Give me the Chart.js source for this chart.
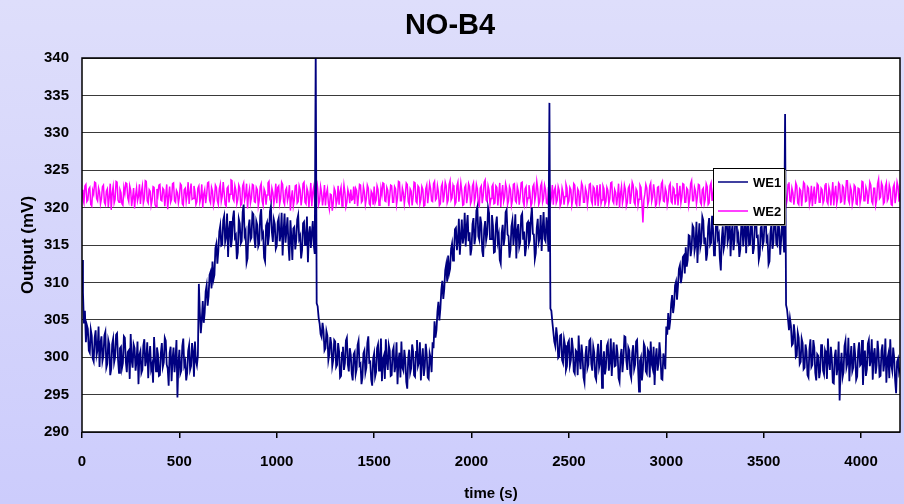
<!DOCTYPE html>
<html>
<head>
<meta charset="utf-8">
<title>NO-B4</title>
<script src="https://cdn.jsdelivr.net/npm/chart.js@4.4.1/dist/chart.umd.min.js"></script>
<style>
  html, body { margin: 0; padding: 0; background: #d4d4fb; }
  canvas { display: block; }
</style>
</head>
<body>
<canvas id="myChart" width="904" height="504"></canvas>
<script>
// sampling interval of the logged signals (s)
var step = 5;

// WE1 output (mV), one value every 5 s from 0 to 4200 s (20 values = 100 s per row)
var we1 = [
  313.0, 308.6, 304.5, 306.2, 302.0, 304.3, 303.8, 300.9, 300.6, 303.7, 302.9, 299.8, 299.4, 302.6, 303.6, 300.3, 301.0, 304.1, 298.7, 301.9,
  302.8, 299.5, 300.2, 302.9, 303.4, 298.6, 299.1, 302.3, 301.7, 297.6, 298.4, 301.8, 302.5, 299.3, 300.0, 303.0, 303.2, 299.7, 297.9, 301.2,
  301.4, 298.5, 299.2, 302.8, 302.6, 299.4, 298.0, 300.7, 300.9, 297.1, 303.1, 299.6, 298.6, 301.7, 301.2, 298.2, 299.5, 302.1, 296.4, 300.3,
  300.8, 297.9, 298.3, 301.6, 302.4, 298.8, 299.6, 302.0, 297.2, 300.1, 301.5, 298.4, 299.0, 296.6, 302.7, 299.9, 298.1, 301.3, 300.4, 297.5,
  297.6, 300.6, 301.9, 298.7, 299.3, 302.6, 302.2, 299.0, 298.5, 296.2, 300.6, 301.4, 296.8, 299.8, 301.3, 298.0, 299.7, 302.3, 294.6, 299.2,
  301.0, 297.8, 298.2, 301.5, 302.5, 298.9, 299.4, 296.9, 297.9, 300.8, 301.6, 298.3, 298.8, 301.9, 300.7, 297.4, 302.1, 299.5, 298.9, 300.2,
  309.8, 306.1, 303.2, 305.0, 307.5, 304.6, 306.0, 308.8, 309.6, 306.9, 308.2, 311.0, 311.4, 309.2, 312.8, 310.4, 311.0, 314.6, 315.2, 312.5,
  314.2, 316.8, 317.6, 314.9, 315.0, 318.3, 318.9, 315.4, 316.1, 319.2, 313.4, 317.0, 318.2, 314.7, 315.8, 318.6, 319.6, 316.0, 316.3, 313.1,
  314.0, 318.5, 317.9, 315.2, 315.5, 319.4, 320.4, 316.3, 316.8, 312.6, 313.2, 317.4, 318.4, 315.7, 316.0, 319.3, 319.1, 315.9, 314.6, 318.2,
  317.7, 314.8, 315.2, 318.9, 319.8, 316.1, 316.5, 313.3, 312.8, 317.6, 318.0, 315.0, 316.2, 319.5, 320.2, 316.7, 315.4, 318.4, 317.8, 314.5,
  314.9, 318.1, 318.6, 315.5, 316.4, 319.3, 313.6, 316.8, 319.2, 315.3, 316.9, 318.7, 315.1, 312.9, 318.3, 316.1, 313.0, 317.2, 317.4, 314.4,
  315.6, 318.4, 319.0, 315.8, 316.2, 313.2, 314.3, 317.9, 318.1, 315.0, 315.9, 318.8, 312.7, 316.4, 317.5, 314.6, 316.6, 318.2, 315.0, 313.8,
  341.0, 307.2, 306.8, 305.3, 304.5, 303.1, 302.7, 304.6, 303.6, 300.9, 301.2, 303.5, 302.9, 299.6, 300.4, 302.7, 301.8, 298.8, 299.6, 302.3,
  302.1, 298.7, 299.0, 301.9, 300.8, 297.3, 297.5, 300.6, 301.4, 298.3, 299.2, 302.2, 302.6, 299.0, 298.1, 301.2, 300.3, 297.8, 296.9, 300.4,
  300.7, 297.7, 298.4, 301.6, 302.2, 298.9, 299.1, 296.4, 297.3, 300.5, 300.9, 297.9, 298.6, 301.9, 302.8, 299.3, 299.4, 297.0, 296.2, 299.8,
  300.5, 297.4, 298.0, 301.2, 301.7, 298.2, 299.8, 302.5, 296.8, 299.7, 300.2, 297.1, 302.4, 299.4, 298.3, 301.6, 300.9, 297.5, 297.6, 300.8,
  301.3, 298.0, 298.9, 302.0, 296.4, 299.5, 300.6, 297.3, 302.1, 298.6, 298.2, 301.0, 299.7, 296.7, 295.8, 299.9, 301.0, 297.9, 298.5, 301.7,
  300.8, 297.6, 297.4, 300.7, 302.3, 298.8, 299.3, 302.0, 296.9, 299.6, 301.2, 297.5, 298.7, 301.8, 300.4, 297.3, 297.1, 300.5, 299.9, 298.0,
  302.0, 301.2, 304.8, 302.6, 303.6, 306.1, 307.4, 304.9, 306.5, 309.0, 310.2, 307.8, 309.1, 311.6, 312.4, 310.1, 313.6, 311.2, 311.8, 314.5,
  315.2, 312.9, 314.0, 317.1, 317.3, 314.3, 315.6, 318.5, 313.7, 316.0, 318.4, 315.2, 316.1, 319.3, 314.8, 317.4, 319.0, 315.5, 316.7, 313.6,
  314.5, 317.8, 318.6, 315.1, 316.0, 319.6, 320.1, 316.2, 315.7, 318.8, 317.9, 314.2, 313.4, 317.1, 318.2, 315.6, 316.4, 320.0, 319.3, 315.8,
  315.8, 319.0, 317.6, 314.0, 314.1, 317.7, 318.8, 315.5, 316.3, 313.0, 312.5, 316.6, 317.7, 314.9, 315.9, 319.4, 319.7, 316.4, 316.2, 313.3,
  314.4, 317.5, 318.3, 315.0, 316.6, 319.1, 313.2, 316.9, 317.8, 314.7, 315.3, 318.9, 319.2, 315.7, 316.8, 313.5, 314.6, 317.9, 318.1, 315.2,
  315.7, 318.6, 320.0, 316.5, 316.4, 313.1, 313.9, 317.3, 318.5, 315.4, 316.0, 319.0, 314.2, 317.1, 319.4, 315.8, 315.5, 318.7, 317.2, 314.1,
  334.0, 306.5, 306.2, 304.7, 303.4, 302.1, 301.5, 304.0, 302.8, 299.9, 300.1, 302.9, 303.0, 299.6, 299.2, 302.4, 301.6, 298.3, 298.8, 301.9,
  302.2, 298.9, 299.6, 302.6, 301.3, 298.1, 297.8, 300.9, 300.7, 297.6, 302.9, 299.9, 298.4, 301.7, 300.2, 297.3, 296.6, 300.3, 301.5, 298.5,
  299.0, 302.2, 302.4, 299.1, 298.2, 301.4, 300.6, 297.4, 297.0, 300.2, 301.8, 298.6, 299.3, 302.3, 295.9, 299.2, 300.8, 297.7, 298.6, 301.5,
  301.9, 298.2, 299.4, 302.5, 297.5, 300.4, 302.0, 298.8, 298.9, 301.7, 300.5, 297.2, 296.7, 300.1, 301.1, 298.0, 299.8, 302.8, 302.7, 299.5,
  298.3, 301.3, 300.9, 297.8, 297.2, 300.6, 301.6, 298.4, 299.0, 302.1, 302.3, 298.7, 295.4, 299.5, 300.0, 296.9, 298.4, 301.8, 301.4, 298.1,
  297.8, 301.0, 300.7, 297.3, 302.1, 299.1, 298.5, 301.4, 296.3, 299.8, 301.2, 298.2, 299.1, 302.0, 300.3, 297.1, 297.0, 300.5, 299.6, 298.4,
  304.1, 303.0, 305.9, 303.7, 304.8, 307.1, 308.3, 305.9, 307.0, 309.6, 310.1, 307.7, 309.5, 311.8, 312.3, 309.9, 310.8, 313.4, 313.6, 311.2,
  314.7, 312.1, 313.0, 316.3, 316.2, 313.5, 314.5, 317.6, 317.3, 314.2, 315.0, 318.1, 312.6, 315.8, 317.9, 314.7, 315.4, 318.8, 318.3, 315.1,
  316.0, 312.9, 313.8, 317.4, 318.6, 315.0, 315.3, 318.9, 317.2, 313.6, 314.0, 317.7, 319.3, 315.9, 316.4, 313.2, 311.6, 315.8, 317.5, 314.5,
  315.2, 318.3, 318.7, 315.4, 316.1, 319.2, 313.5, 316.6, 317.8, 314.3, 315.6, 318.9, 319.1, 315.7, 316.3, 313.4, 314.4, 317.6, 318.0, 314.8,
  316.6, 319.7, 313.9, 316.9, 318.4, 315.0, 315.1, 318.3, 317.4, 313.8, 314.6, 318.0, 319.5, 316.1, 316.2, 313.0, 313.7, 317.3, 317.6, 314.9,
  315.5, 318.5, 318.9, 315.6, 316.0, 312.4, 312.8, 316.7, 317.9, 314.5, 315.3, 318.8, 318.2, 315.1, 314.9, 318.4, 317.1, 313.7, 315.8, 318.3,
  316.5, 314.0, 332.5, 307.0, 306.4, 305.1, 303.6, 305.2, 304.2, 301.6, 301.8, 304.4, 303.1, 300.0, 300.2, 303.3, 302.6, 299.1, 299.4, 302.5,
  301.9, 298.4, 298.6, 301.7, 300.8, 297.6, 297.3, 301.1, 302.4, 298.7, 299.0, 302.3, 301.3, 297.9, 296.9, 300.4, 300.2, 297.2, 298.1, 301.6,
  301.6, 298.2, 297.7, 300.9, 300.4, 297.1, 302.5, 299.4, 298.3, 301.4, 299.9, 296.6, 296.5, 300.2, 301.0, 297.6, 298.8, 302.1, 294.2, 298.7,
  300.6, 297.3, 298.0, 301.5, 302.2, 298.6, 299.2, 302.6, 296.8, 299.7, 301.5, 298.1, 298.6, 301.9, 300.3, 297.0, 297.4, 300.8, 302.0, 298.9,
  299.1, 302.3, 296.3, 299.6, 300.9, 297.5, 298.4, 301.8, 302.3, 298.8, 299.6, 302.4, 297.0, 300.3, 301.2, 297.8, 298.9, 302.2, 300.5, 297.4,
  297.5, 300.9, 301.7, 298.1, 299.3, 302.5, 296.6, 299.7, 300.4, 297.2, 302.4, 299.0, 298.2, 301.3, 300.0, 296.9, 295.2, 299.4, 299.8, 298.0,
  298.6
];

// WE2 output (mV), same time base
var we2 = [
  322.4, 321.1, 320.6, 322.9, 323.1, 320.8, 321.0, 322.5, 322.7, 320.4, 320.2, 322.3, 321.8, 323.4, 323.3, 321.2, 320.9, 322.6, 322.1, 320.5,
  321.2, 322.8, 323.0, 320.7, 320.4, 322.2, 322.5, 320.1, 321.4, 323.2, 319.7, 321.9, 322.8, 320.6, 321.1, 323.5, 323.4, 321.0, 320.7, 322.4,
  322.0, 320.5, 320.3, 322.7, 321.9, 323.3, 323.2, 321.3, 320.8, 322.9, 322.3, 320.2, 321.3, 322.6, 319.9, 321.6, 322.6, 320.9, 321.5, 323.1,
  320.5, 322.1, 322.9, 320.6, 321.2, 323.6, 323.5, 320.9, 320.6, 322.4, 322.2, 320.3, 321.0, 322.8, 322.7, 320.4, 320.1, 322.5, 321.7, 323.0,
  323.1, 321.0, 320.9, 322.6, 322.4, 320.2, 321.6, 323.1, 319.8, 321.5, 322.8, 320.7, 321.1, 323.2, 323.3, 320.9, 320.7, 322.3, 322.0, 320.6,
  321.4, 323.2, 323.0, 320.5, 320.3, 322.4, 322.6, 320.8, 321.8, 323.4, 320.5, 322.0, 323.2, 321.1, 321.2, 322.9, 322.1, 320.4, 320.8, 322.6,
  322.9, 320.7, 321.3, 323.1, 320.0, 321.8, 322.4, 320.6, 321.7, 323.3, 323.4, 321.0, 320.6, 322.7, 322.2, 320.3, 321.0, 323.0, 322.7, 320.9,
  320.4, 322.5, 323.1, 320.8, 321.5, 323.4, 322.0, 320.4, 320.2, 322.6, 322.8, 320.7, 321.8, 323.7, 323.6, 321.2, 320.9, 322.9, 322.3, 320.5,
  321.1, 323.0, 322.6, 320.3, 320.5, 322.9, 323.3, 321.0, 321.6, 323.2, 319.9, 321.7, 322.5, 320.6, 321.3, 323.1, 323.0, 320.8, 320.7, 322.7,
  322.4, 320.2, 321.0, 322.8, 323.2, 320.9, 320.3, 322.5, 322.1, 320.4, 321.7, 323.3, 323.5, 321.1, 320.8, 322.6, 322.0, 320.5, 321.4, 323.2,
  320.6, 322.7, 322.9, 320.5, 321.2, 323.4, 323.1, 320.8, 320.4, 322.3, 322.6, 320.9, 321.5, 323.0, 319.6, 321.3, 322.3, 320.2, 321.0, 322.9,
  323.0, 320.6, 320.8, 322.9, 322.4, 320.3, 321.3, 323.2, 323.4, 320.7, 320.5, 322.6, 322.1, 320.1, 321.6, 323.3, 320.2, 322.1, 322.8, 320.6,
  321.1, 323.6, 322.6, 320.4, 320.9, 322.8, 322.0, 320.3, 321.4, 323.0, 320.3, 321.9, 322.5, 320.6, 319.8, 321.8, 321.7, 319.6, 320.6, 322.6,
  322.2, 320.4, 321.0, 322.9, 320.4, 322.1, 322.7, 320.2, 321.3, 323.0, 322.0, 320.1, 320.7, 322.4, 321.8, 320.6, 322.4, 321.0, 321.1, 322.8,
  320.5, 322.6, 322.3, 320.2, 321.6, 323.1, 323.0, 320.7, 320.9, 322.8, 322.1, 320.4, 321.2, 323.0, 322.6, 320.5, 320.3, 322.2, 321.9, 320.4,
  322.8, 320.6, 321.0, 322.9, 322.4, 320.3, 320.6, 322.6, 321.7, 323.3, 323.2, 320.9, 320.8, 322.7, 322.3, 320.2, 321.5, 323.0, 322.9, 320.7,
  320.7, 322.8, 322.5, 320.4, 321.3, 323.5, 323.4, 320.9, 320.9, 322.6, 322.0, 320.5, 321.6, 323.3, 323.1, 320.8, 320.4, 322.5, 322.2, 320.3,
  321.4, 323.4, 323.3, 320.8, 320.6, 322.9, 322.7, 320.5, 321.1, 322.8, 322.4, 320.2, 320.3, 322.5, 323.0, 320.6, 321.8, 323.2, 322.5, 320.9,
  320.8, 323.2, 323.5, 321.0, 321.2, 322.9, 322.1, 320.3, 320.5, 322.8, 323.2, 320.7, 321.7, 323.4, 322.9, 320.6, 321.0, 323.1, 323.6, 321.0,
  321.3, 323.0, 322.6, 320.4, 320.7, 322.9, 323.4, 320.8, 321.9, 323.3, 322.2, 320.3, 320.4, 322.7, 323.0, 320.6, 321.5, 323.2, 322.8, 320.5,
  320.9, 322.9, 323.3, 320.7, 321.4, 323.1, 322.5, 320.4, 320.2, 322.6, 322.9, 320.6, 321.6, 323.4, 323.7, 321.0, 320.8, 322.9, 322.3, 320.4,
  321.2, 322.8, 323.1, 320.5, 320.6, 322.9, 322.7, 320.3, 321.8, 323.3, 320.1, 321.9, 323.0, 320.8, 321.4, 323.2, 322.6, 320.4, 320.9, 322.8,
  322.4, 320.3, 321.0, 323.1, 323.2, 320.9, 320.7, 322.8, 322.2, 320.4, 321.5, 323.3, 323.4, 320.8, 320.3, 322.5, 322.8, 320.6, 321.3, 323.0,
  322.0, 320.2, 320.6, 322.8, 323.1, 320.9, 321.7, 323.5, 322.5, 320.4, 320.8, 322.9, 323.3, 320.7, 321.2, 323.0, 322.4, 320.6, 320.5, 322.7,
  322.9, 320.5, 321.3, 323.0, 320.4, 322.3, 322.7, 320.6, 321.0, 322.8, 322.3, 320.2, 320.6, 322.6, 322.0, 320.4, 321.5, 323.1, 322.6, 320.5,
  320.9, 322.7, 322.4, 320.3, 321.1, 323.2, 323.0, 320.6, 320.3, 322.5, 322.2, 320.2, 321.6, 323.3, 322.9, 320.7, 320.7, 322.6, 322.1, 320.4,
  321.4, 323.1, 323.2, 320.9, 320.5, 322.8, 322.6, 320.3, 321.8, 323.0, 320.2, 321.7, 323.1, 320.5, 321.0, 322.9, 322.5, 320.4, 320.8, 322.7,
  322.3, 320.5, 321.2, 323.3, 323.4, 320.9, 320.6, 322.4, 322.0, 320.3, 321.5, 323.2, 320.0, 321.9, 322.8, 320.6, 321.3, 323.0, 322.4, 320.2,
  320.7, 322.6, 322.9, 320.5, 321.6, 323.4, 323.0, 320.7, 320.4, 322.5, 322.2, 320.3, 321.1, 323.0, 322.7, 320.6, 318.0, 321.0, 321.8, 323.1,
  322.6, 320.4, 320.9, 322.9, 323.3, 320.8, 321.4, 323.1, 322.0, 320.2, 320.5, 322.7, 322.8, 320.6, 321.2, 323.2, 323.5, 320.9, 320.8, 322.6,
  322.1, 320.3, 321.0, 322.9, 323.2, 320.8, 320.6, 322.7, 322.5, 320.4, 321.7, 323.3, 320.3, 321.8, 322.9, 320.6, 321.4, 323.2, 323.1, 320.7,
  320.7, 322.6, 322.4, 320.3, 321.2, 323.2, 323.6, 320.9, 320.9, 322.7, 322.2, 320.5, 321.5, 323.1, 323.0, 320.7, 320.4, 322.4, 322.6, 320.5,
  321.1, 323.2, 322.8, 320.4, 320.6, 322.9, 323.3, 320.9, 321.8, 323.1, 322.0, 320.1, 320.2, 322.6, 322.7, 320.5, 321.3, 323.2, 323.4, 320.8,
  320.8, 322.7, 322.3, 320.2, 321.6, 323.4, 323.1, 320.6, 320.5, 322.8, 322.9, 320.7, 321.0, 322.9, 322.4, 320.3, 321.7, 323.3, 323.5, 321.0,
  320.9, 322.8, 322.1, 320.4, 321.4, 323.1, 323.2, 320.7, 320.3, 322.4, 322.6, 320.5, 321.8, 323.3, 323.0, 320.8, 320.7, 322.6, 322.4, 320.2,
  321.2, 323.0, 323.3, 320.8, 320.5, 322.6, 322.8, 320.4, 321.6, 323.4, 322.2, 320.1, 320.1, 322.7, 323.1, 320.6, 321.3, 323.0, 322.7, 320.5,
  320.6, 322.7, 322.5, 320.3, 321.0, 323.1, 323.4, 320.9, 320.8, 322.6, 322.0, 320.4, 321.5, 323.3, 322.9, 320.6, 320.4, 322.5, 322.3, 320.2,
  321.7, 323.4, 323.2, 320.8, 320.9, 322.8, 322.6, 320.4, 321.1, 322.9, 320.2, 321.8, 322.8, 320.5, 321.4, 323.2, 323.0, 320.7, 320.7, 322.6,
  322.4, 320.6, 321.0, 323.0, 323.3, 320.8, 320.5, 322.7, 322.1, 320.3, 321.8, 323.4, 320.3, 321.9, 322.9, 320.5, 321.2, 323.3, 323.1, 320.7,
  320.8, 322.9, 322.7, 320.4, 321.5, 323.6, 323.6, 321.0, 320.6, 322.8, 322.3, 320.4, 321.1, 323.0, 322.8, 320.5, 320.4, 322.6, 322.5, 320.6,
  321.3, 323.5, 323.4, 320.9, 320.9, 322.7, 322.2, 320.5, 321.7, 323.4, 323.0, 320.8, 320.5, 322.6, 322.6, 320.3, 321.0, 323.2, 323.8, 321.2,
  321.4, 323.3, 322.9, 320.5, 320.7, 322.8, 323.3, 320.9, 321.2, 323.0, 322.4, 320.4, 320.3, 322.7, 323.1, 320.6, 321.6, 323.4, 322.8, 320.8,
  321.9
];

var seriesNames = ['WE1', 'WE2'];
var seriesColors = ['#000080', '#ff00ff'];
var xTicks = [0, 500, 1000, 1500, 2000, 2500, 3000, 3500, 4000];
var yTicks = [290, 295, 300, 305, 310, 315, 320, 325, 330, 335, 340];

function toPoints(arr) {
  return arr.map(function (v, i) { return { x: i * step, y: v }; });
}

var fontFam = '"Liberation Sans", Arial, sans-serif';

// background gradient, white plot area and frame
var framePlugin = {
  id: 'frame',
  beforeDraw: function (chart) {
    var c = chart.ctx, a = chart.chartArea;
    var g = c.createLinearGradient(0, 0, 0, chart.height);
    g.addColorStop(0, '#dedefb');
    g.addColorStop(1, '#ccccfc');
    c.save();
    c.fillStyle = g;
    c.fillRect(0, 0, chart.width, chart.height);
    c.fillStyle = '#ffffff';
    c.fillRect(a.left, a.top, a.right - a.left, a.bottom - a.top);
    c.restore();
  },
  afterDatasetsDraw: function (chart) {
    var c = chart.ctx, a = chart.chartArea;
    c.save();
    c.strokeStyle = '#000';
    c.lineWidth = 1.5;
    c.strokeRect(a.left, a.top, a.right - a.left, a.bottom - a.top);
    c.restore();
  }
};

// boxed legend inside the plot, like the original
var boxLegend = {
  id: 'boxLegend',
  afterDraw: function (chart) {
    var c = chart.ctx;
    var bx = 713, by = 168, bw = 71, bh = 56;
    c.save();
    c.fillStyle = '#888';
    c.fillRect(bx + 2, by + 2, bw, bh);
    c.fillStyle = '#fff';
    c.fillRect(bx, by, bw, bh);
    c.strokeStyle = '#000';
    c.lineWidth = 1;
    c.strokeRect(bx + 0.5, by + 0.5, bw, bh);
    c.font = 'bold 13px ' + fontFam;
    c.textBaseline = 'middle';
    chart.data.datasets.forEach(function (ds, i) {
      var ly = by + 14 + i * 29;
      c.strokeStyle = ds.borderColor;
      c.lineWidth = 1.5;
      c.beginPath();
      c.moveTo(bx + 5, ly);
      c.lineTo(bx + 35, ly);
      c.stroke();
      c.fillStyle = '#000';
      c.fillText(ds.label, bx + 40, ly + 1);
    });
    c.restore();
  }
};

var ctx = document.getElementById('myChart').getContext('2d');
var myChart = new Chart(ctx, {
  type: 'line',
  data: {
    datasets: [{
      label: seriesNames[0],
      data: toPoints(we1),
      borderColor: seriesColors[0],
      borderWidth: 1.8,
      pointRadius: 0,
      tension: 0
    }, {
      label: seriesNames[1],
      data: toPoints(we2),
      borderColor: seriesColors[1],
      borderWidth: 1.5,
      pointRadius: 0,
      tension: 0
    }]
  },
  options: {
    responsive: false,
    animation: false,
    events: [],
    layout: { padding: { left: 0, right: 4, top: 0, bottom: 0 } },
    plugins: {
      legend: { display: false },
      tooltip: { enabled: false },
      title: {
        display: true,
        text: 'NO-B4',
        color: '#000',
        font: { family: fontFam, size: 29, weight: 'bold' },
        padding: { top: 9, bottom: 14.2 }
      }
    },
    scales: {
      x: {
        type: 'linear',
        min: 0,
        max: 4200,
        afterBuildTicks: function (s) {
          s.ticks = xTicks.map(function (v) { return { value: v }; });
        },
        afterFit: function (s) { s.height = 72; },
        grid: {
          display: true,
          drawOnChartArea: false,
          drawTicks: true,
          tickLength: 6,
          color: '#000',
          lineWidth: 1.5
        },
        border: { display: false },
        ticks: {
          color: '#000',
          padding: 15,
          maxRotation: 0,
          callback: function (v) { return String(v); },
          font: { family: fontFam, size: 15, weight: 'bold' }
        },
        title: {
          display: true,
          text: 'time (s)',
          color: '#000',
          font: { family: fontFam, size: 15, weight: 'bold' },
          padding: { top: 0, bottom: 1 }
        }
      },
      y: {
        min: 290,
        max: 340,
        afterBuildTicks: function (s) {
          s.ticks = yTicks.map(function (v) { return { value: v }; });
        },
        afterFit: function (s) { s.width = 82; },
        grid: {
          color: '#3a3a3a',
          lineWidth: 1,
          drawTicks: false
        },
        border: { display: false },
        ticks: {
          color: '#000',
          padding: 13,
          callback: function (v) { return String(v); },
          font: { family: fontFam, size: 15, weight: 'bold' }
        },
        title: {
          display: true,
          text: 'Output (mV)',
          color: '#000',
          font: { family: fontFam, size: 17, weight: 'bold' },
          padding: { top: 18, bottom: 0 }
        }
      }
    }
  },
  plugins: [framePlugin, boxLegend]
});
</script>
</body>
</html>
